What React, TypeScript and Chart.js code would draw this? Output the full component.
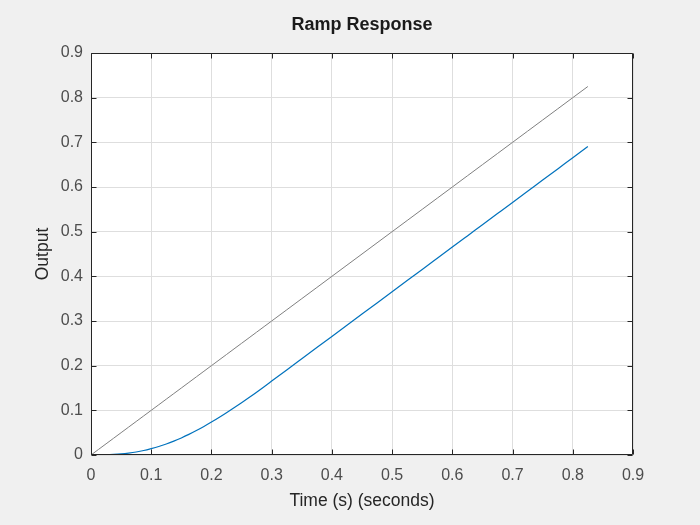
import React, { useEffect, useRef } from 'react';
import { Chart, registerables } from 'chart.js';

Chart.register(...registerables);

// time samples (s), denser over the start-up transient
const timeValues = [
  0, 0.0125, 0.025, 0.0375, 0.05, 0.0625, 0.075, 0.0875, 0.1, 0.1125, 0.125, 0.1375, 0.15, 0.1625, 0.175,
  0.1875, 0.2, 0.2125, 0.225, 0.2375, 0.25, 0.2625, 0.275, 0.2875, 0.3, 0.325, 0.35, 0.375, 0.4, 0.425,
  0.45, 0.475, 0.5, 0.525, 0.55, 0.575, 0.6, 0.625, 0.65, 0.675, 0.7, 0.725, 0.75, 0.775, 0.8, 0.825,
];

// ramp input (grey)
const rampInput = [
  0, 0.0125, 0.025, 0.0375, 0.05, 0.0625, 0.075, 0.0875, 0.1, 0.1125, 0.125, 0.1375, 0.15, 0.1625, 0.175,
  0.1875, 0.2, 0.2125, 0.225, 0.2375, 0.25, 0.2625, 0.275, 0.2875, 0.3, 0.325, 0.35, 0.375, 0.4, 0.425,
  0.45, 0.475, 0.5, 0.525, 0.55, 0.575, 0.6, 0.625, 0.65, 0.675, 0.7, 0.725, 0.75, 0.775, 0.8, 0.825,
];

// system output (blue)
const systemOutput = [
  0, 0.0001, 0.0005, 0.0013, 0.0025, 0.0043, 0.0067, 0.01, 0.0143, 0.0191, 0.0247, 0.0311, 0.0382, 0.0461,
  0.0547, 0.0639, 0.0737, 0.084, 0.0947, 0.1058, 0.1172, 0.1288, 0.1407, 0.153, 0.1655, 0.1905, 0.2155,
  0.2405, 0.2655, 0.2905, 0.3155, 0.3405, 0.3655, 0.3905, 0.4155, 0.4405, 0.4655, 0.4905, 0.5155, 0.5405,
  0.5655, 0.5905, 0.6155, 0.6405, 0.6655, 0.6905,
];

const xTickLabels = ['0', '0.1', '0.2', '0.3', '0.4', '0.5', '0.6', '0.7', '0.8', '0.9'];
const yTickLabels = ['0', '0.1', '0.2', '0.3', '0.4', '0.5', '0.6', '0.7', '0.8', '0.9'];

const FONT = '"Liberation Sans", Arial, Helvetica, sans-serif';

// white axes face, dark box and inward ticks like MATLAB
const matlabAxes = {
  id: 'matlabAxes',
  beforeDraw(chart: any) {
    const { ctx, chartArea: a } = chart;
    ctx.save();
    ctx.fillStyle = '#ffffff';
    ctx.fillRect(a.left, a.top, a.right - a.left, a.bottom - a.top);
    ctx.restore();
  },
  afterDraw(chart: any) {
    const { ctx, chartArea: a, scales } = chart;
    const L = Math.round(a.left) + 0.5;
    const R = Math.round(a.right) - 0.5;
    const T = Math.round(a.top) + 0.5;
    const B = Math.round(a.bottom) - 0.5;
    const len = 5;
    ctx.save();
    ctx.strokeStyle = '#262626';
    ctx.lineWidth = 1;
    ctx.beginPath();
    ctx.rect(L, T, R - L, B - T);
    scales.x.ticks.forEach((t: any) => {
      const px = Math.round(scales.x.getPixelForValue(t.value)) + 0.5;
      ctx.moveTo(px, B);
      ctx.lineTo(px, B - len);
      ctx.moveTo(px, T);
      ctx.lineTo(px, T + len);
    });
    scales.y.ticks.forEach((t: any) => {
      const py = Math.round(scales.y.getPixelForValue(t.value)) + 0.5;
      ctx.moveTo(L, py);
      ctx.lineTo(L + len, py);
      ctx.moveTo(R, py);
      ctx.lineTo(R - len, py);
    });
    ctx.stroke();
    ctx.restore();
  },
};

export default function App() {
  const canvasRef = useRef<HTMLCanvasElement>(null);
  const chartRef = useRef<Chart | null>(null);

  useEffect(() => {
    if (!canvasRef.current) return;
    if (chartRef.current) chartRef.current.destroy();

    const ctx = canvasRef.current.getContext('2d');
    if (!ctx) return;

    chartRef.current = new Chart(ctx, {
      type: 'line',
      data: {
        datasets: [
          {
            label: 'Ramp',
            data: timeValues.map((t, i) => ({ x: t, y: rampInput[i] })),
            borderColor: '#808080',
            borderWidth: 1,
            pointRadius: 0,
            fill: false,
          },
          {
            label: 'Output',
            data: timeValues.map((t, i) => ({ x: t, y: systemOutput[i] })),
            borderColor: '#0072BD',
            borderWidth: 1.2,
            pointRadius: 0,
            fill: false,
            cubicInterpolationMode: 'monotone',
          },
        ],
      },
      options: {
        responsive: false,
        animation: false,
        layout: { padding: { top: 0, right: 67, bottom: 0, left: 0 } },
        plugins: {
          legend: { display: false },
          tooltip: { enabled: false },
          title: {
            display: true,
            text: 'Ramp Response',
            fullSize: false,
            color: '#1a1a1a',
            font: { family: FONT, size: 18, weight: 'bold' },
            padding: { top: 14.7, bottom: 16.7 },
          },
        },
        scales: {
          x: {
            type: 'linear',
            min: 0,
            max: 0.9,
            afterFit: (scale: any) => {
              scale.height = 70;
            },
            ticks: {
              stepSize: 0.1,
              padding: 11,
              color: '#4d4d4d',
              font: { family: FONT, size: 16 },
              maxRotation: 0,
              callback: (_v: any, i: number) => xTickLabels[i],
            },
            grid: { color: '#dedede', drawTicks: false },
            border: { display: false },
            title: {
              display: true,
              text: 'Time (s) (seconds)',
              color: '#262626',
              font: { family: FONT, size: 17.5 },
              padding: { top: 0, bottom: 13.5 },
            },
          },
          y: {
            type: 'linear',
            min: 0,
            max: 0.9,
            afterFit: (scale: any) => {
              scale.width = 91;
            },
            ticks: {
              stepSize: 0.1,
              padding: 8,
              color: '#4d4d4d',
              font: { family: FONT, size: 16 },
              callback: (_v: any, i: number) => yTickLabels[i],
            },
            grid: { color: '#dedede', drawTicks: false },
            border: { display: false },
            title: {
              display: true,
              text: 'Output',
              color: '#262626',
              font: { family: FONT, size: 17.5 },
              padding: { top: 33, bottom: 0 },
            },
          },
        },
      },
      plugins: [matlabAxes],
    } as any);

    return () => {
      if (chartRef.current) {
        chartRef.current.destroy();
        chartRef.current = null;
      }
    };
  }, []);

  return (
    <div
      style={{
        position: 'absolute',
        left: 0,
        top: 0,
        width: '700px',
        height: '525px',
        background: '#f0f0f0',
      }}
    >
      <canvas ref={canvasRef} width={700} height={525} />
    </div>
  );
}
